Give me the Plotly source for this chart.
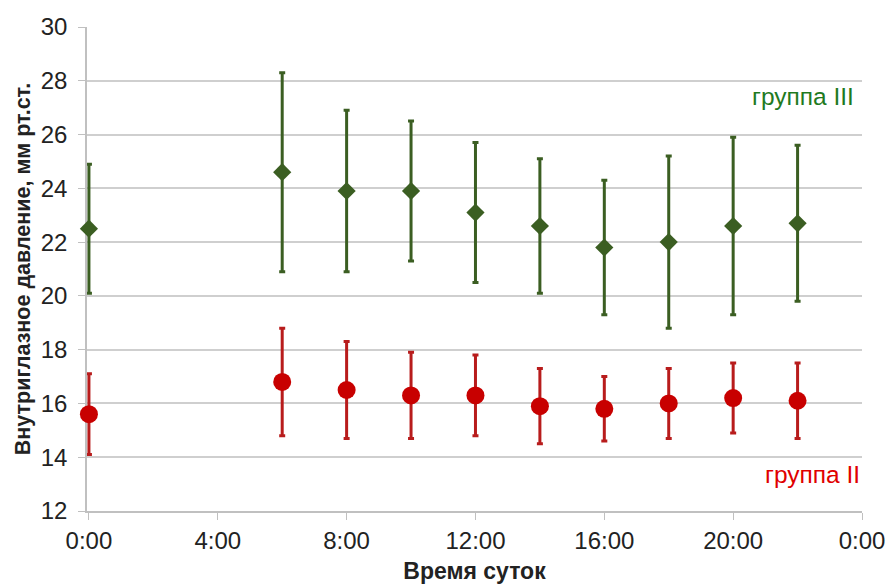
import plotly.graph_objects as go

# Time of day, hours
hours = [0, 6, 8, 10, 12, 14, 16, 18, 20, 22]

# Group III: mean IOP and error bar ends
g3_mean = [22.5, 24.6, 23.9, 23.9, 23.1, 22.6, 21.8, 22.0, 22.6, 22.7]
g3_high = [24.9, 28.3, 26.9, 26.5, 25.7, 25.1, 24.3, 25.2, 25.9, 25.6]
g3_low = [20.1, 20.9, 20.9, 21.3, 20.5, 20.1, 19.3, 18.8, 19.3, 19.8]

# Group II: mean IOP and error bar ends
g2_mean = [15.6, 16.8, 16.5, 16.3, 16.3, 15.9, 15.8, 16.0, 16.2, 16.1]
g2_high = [17.1, 18.8, 18.3, 17.9, 17.8, 17.3, 17.0, 17.3, 17.5, 17.5]
g2_low = [14.1, 14.8, 14.7, 14.7, 14.8, 14.5, 14.6, 14.7, 14.9, 14.7]

x_tickvals = [0, 4, 8, 12, 16, 20, 24]
x_ticktext = ["0:00", "4:00", "8:00", "12:00", "16:00", "20:00", "0:00"]
y_tickvals = [12, 14, 16, 18, 20, 22, 24, 26, 28, 30]

FONT = "Arial, Liberation Sans, sans-serif"
GREEN = "#3b5e22"
RED = "#c80000"

fig = go.Figure()

fig.add_trace(go.Scatter(
    x=hours, y=g3_mean, mode="markers", cliponaxis=False,
    marker=dict(symbol="diamond", size=14, color=GREEN),
    error_y=dict(
        type="data", symmetric=False,
        array=[h - m for h, m in zip(g3_high, g3_mean)],
        arrayminus=[m - l for m, l in zip(g3_mean, g3_low)],
        color=GREEN, thickness=3, width=3,
    ),
    showlegend=False,
))

fig.add_trace(go.Scatter(
    x=hours, y=g2_mean, mode="markers", cliponaxis=False,
    marker=dict(symbol="circle", size=18, color=RED),
    error_y=dict(
        type="data", symmetric=False,
        array=[h - m for h, m in zip(g2_high, g2_mean)],
        arrayminus=[m - l for m, l in zip(g2_mean, g2_low)],
        color="#b81c1c", thickness=3, width=3,
    ),
    showlegend=False,
))

fig.add_annotation(x=23.8, y=27.4, xref="x", yref="y", text="группа III",
                   showarrow=False, xanchor="right", yanchor="middle",
                   font=dict(family=FONT, size=24.5, color="#1f7a1f"))
fig.add_annotation(x=24, y=13.35, xref="x", yref="y", text="группа II",
                   showarrow=False, xanchor="right", yanchor="middle",
                   font=dict(family=FONT, size=24.5, color="#e00000"))

fig.update_layout(
    width=888, height=584,
    margin=dict(l=87, r=26, t=27, b=73),
    paper_bgcolor="white", plot_bgcolor="white",
    font=dict(family=FONT, color="#222222"),
    xaxis=dict(
        # small left pad keeps the 0:00 error bars from being clipped
        range=[-0.06, 24], tickvals=x_tickvals, ticktext=x_ticktext,
        automargin=False, layer="below traces",
        showgrid=False, zeroline=False,
        showline=True, linecolor="#c0c0c0", linewidth=1.5,
        ticks="outside", ticklen=7, tickcolor="#c0c0c0",
        tickfont=dict(size=24, color="#222222"),
        title=dict(text="<b>Время суток</b>", font=dict(size=23, color="#222222"), standoff=11),
    ),
    yaxis=dict(
        range=[12, 30], tickvals=y_tickvals,
        automargin=False, layer="below traces",
        showgrid=True, gridcolor="#cfcfcf", gridwidth=1.5,
        zeroline=False,
        showline=True, linecolor="#c0c0c0", linewidth=1.5,
        ticks="outside", ticklen=7, tickcolor="#c0c0c0",
        ticklabelstandoff=6,
        tickfont=dict(size=24, color="#222222"),
        title=dict(text="<b>Внутриглазное давление, мм рт.ст.</b>",
                   font=dict(size=21.5, color="#222222"), standoff=4),
    ),
)

fig.write_html("out.html")
